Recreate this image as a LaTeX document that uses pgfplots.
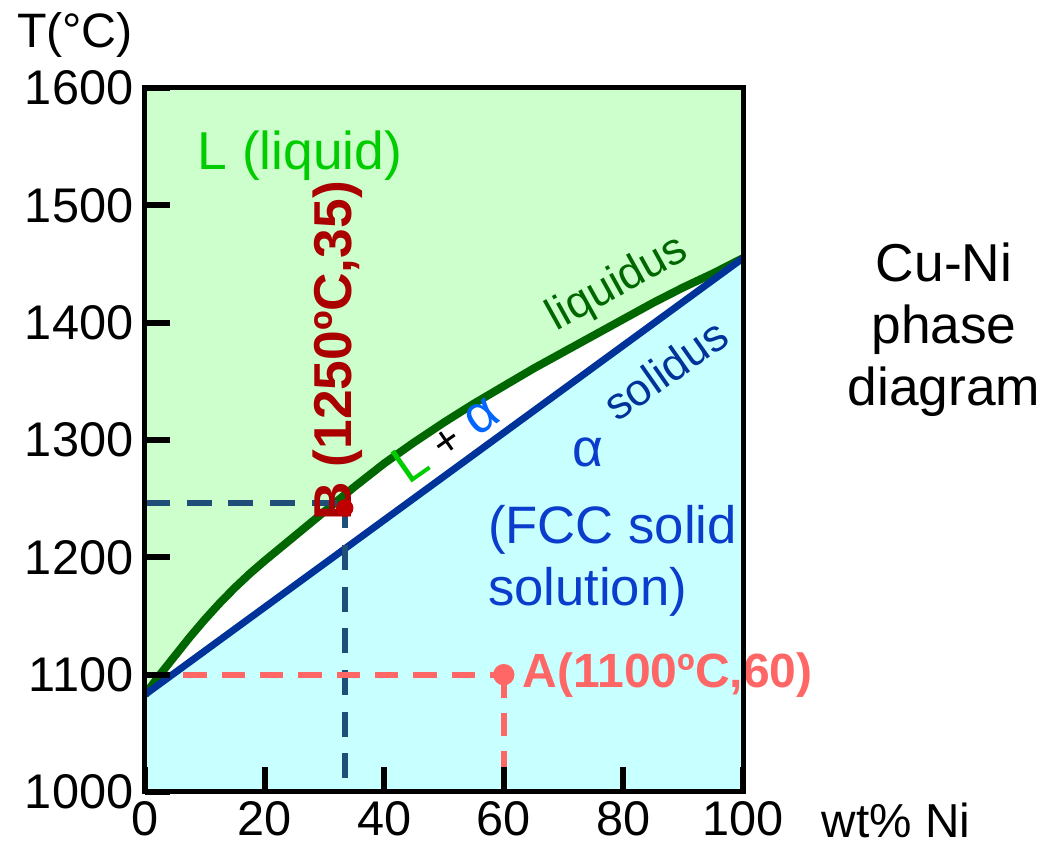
\documentclass[border=0pt]{standalone}
\usepackage{pgfplots}
\pgfplotsset{compat=1.18}
\usepgfplotslibrary{fillbetween}
\usepackage{fontspec}
\setmainfont{Liberation Sans}

\definecolor{bggreen}{HTML}{CCFFCC}
\definecolor{bgcyan}{HTML}{C8FFFF}
\definecolor{liqcol}{HTML}{006600}
\definecolor{solcol}{HTML}{003399}
\definecolor{liqtext}{HTML}{00CC00}
\definecolor{bred}{HTML}{AA0000}
\definecolor{bdot}{HTML}{C00000}
\definecolor{acol}{HTML}{FF6666}
\definecolor{navy}{HTML}{1F4E79}
\definecolor{alphalight}{HTML}{0066FF}
\definecolor{fccblue}{HTML}{0A3DCC}

\newcommand{\tickfont}{\fontsize{14.6}{17}\selectfont}

% liquidus and solidus, wt% Ni vs T (C)
\pgfplotstableread{
x T
0 1083
2.5 1100
5 1116
7.5 1132
10 1147
12.5 1161
15 1174
17.5 1186
20 1197
25 1218
30 1239
35 1260
40 1280
45 1298
50 1315
55 1331
60 1346
65 1361
70 1375
75 1389
80 1403
85 1417
90 1430
95 1442
100 1455
}\liquidus
\pgfplotstableread{
x T
0 1083
100 1455
}\solidus

\begin{document}
\begin{tikzpicture}
\begin{axis}[name=ax, scale only axis, width=179.4pt, height=211.2pt,
  xmin=0, xmax=100, ymin=1000, ymax=1600, clip=false, axis on top,
  xtick={0,20,...,100}, ytick={1000,1100,...,1600},
  xtick pos=bottom, ytick pos=left, tick align=inside,
  major tick length=7.5pt, tick style={black, line width=1.8pt},
  axis line style={line width=1.5pt},
  tick label style={font=\tickfont}, /pgf/number format/assume math mode=true,
  xticklabel style={inner sep=0pt, yshift=-2.6pt},
  /pgf/number format/1000 sep={}]
% phase boundaries
\addplot[liqcol, line width=2.4pt, line join=round, name path=liq] table[x=x, y=T] {\liquidus};
\addplot[solcol, line width=2.1pt, name path=sol] table[x=x, y=T] {\solidus};
\path[name path=top] (axis cs:0,1600) -- (axis cs:100,1600);
\path[name path=bot] (axis cs:0,1000) -- (axis cs:100,1000);
\addplot[bggreen] fill between[of=liq and top];
\addplot[bgcyan] fill between[of=sol and bot];
% guide lines
\addplot[navy, line width=1.8pt, dash pattern=on 7.5pt off 5pt] coordinates {(0,1246) (33.4,1246)};
\addplot[navy, line width=1.8pt, dash pattern=on 7.5pt off 5pt] coordinates {(33.4,1246) (33.4,1006)};
\addplot[acol, line width=1.8pt, dash pattern=on 7pt off 4.5pt] coordinates {(0,1100) (60,1100)};
\addplot[acol, line width=1.8pt, dash pattern=on 7pt off 4.5pt] coordinates {(60,1100) (60,1000)};
% points
\addplot[only marks, mark=*, mark size=2.4pt, color=bdot] coordinates {(33.4,1242)};
\addplot[only marks, mark=*, mark size=3pt, color=acol] coordinates {(60,1100)};
% labels
\node[liqtext, font=\fontsize{16}{19}\selectfont] at (axis cs:25.9,1542) {L (liquid)};
\node[liqcol, font=\fontsize{13.5}{16}\selectfont, rotate=29] at (axis cs:79.1,1433) {liquidus};
\node[solcol, font=\fontsize{13.5}{16}\selectfont, rotate=35] at (axis cs:87,1360) {solidus};
\node[font=\fontsize{16}{19}\selectfont, rotate=35] at (axis cs:50.2,1302) {\textcolor{liqtext}{L}\ {\fontsize{13}{15}\selectfont +}\ \textcolor{alphalight}{α}};
\node[fccblue, font=\fontsize{16}{19}\selectfont] at (axis cs:74,1289) {α};
\node[fccblue, font=\fontsize{15.8}{18.6}\selectfont, anchor=west, align=left] at (axis cs:55.4,1197) {(FCC solid\\solution)};
\node[bred, font=\bfseries\fontsize{16}{19}\selectfont, rotate=90] at (axis cs:32.3,1376) {B (1250ºC,35)};
\node[acol, font=\bfseries\fontsize{14.4}{17}\selectfont, anchor=west] at (axis cs:61.2,1100) {A(1100ºC,60)};
\end{axis}
\node[font=\fontsize{14.5}{17}\selectfont] at ([shift={(-21pt,227.1pt)}]ax.south west) {T(°C)};
\node[font=\fontsize{14.3}{17}\selectfont] at ([shift={(225.3pt,-8.4pt)}]ax.south west) {wt\% Ni};
\node[font=\fontsize{16}{18.6}\selectfont, align=center] at ([shift={(239.7pt,138.6pt)}]ax.south west) {Cu-Ni\\phase\\diagram};
\pgfresetboundingbox
\path[use as bounding box] ([shift={(-43.5pt,-15.6pt)}]ax.south west) rectangle ([shift={(272.4pt,237.6pt)}]ax.south west);
\end{tikzpicture}
\end{document}
